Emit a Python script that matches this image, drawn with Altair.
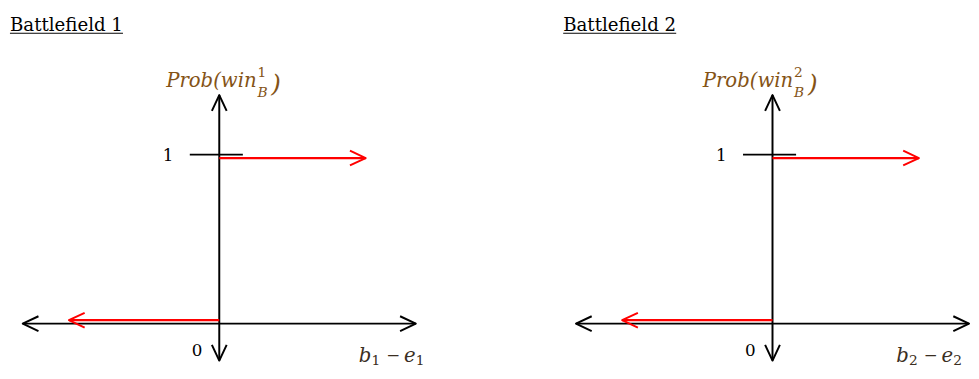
import altair as alt
import pandas as pd

# ---- data ----
panel_titles = ["Battlefield 1", "Battlefield 2"]
panel_index = ["1", "2"]

axis_x_ends = [-1.0, 1.0]          # horizontal axis (b - e), arrow at both ends
axis_y_ends = [-0.22, 1.36]        # vertical axis (probability), arrow at both ends
tick_one_x = [-0.15, 0.12]         # short tick at Prob = 1
tick_labels = ["0", "1"]
tick_values = [0, 1]

step_low_x = [-0.765, 0.0]         # Prob = 0 for b - e < 0
step_low_y = 0
step_high_x = [0.0, 0.745]         # Prob = 1 for b - e > 0
step_high_y = 1

# ---- styles / layout ----
WIDTHS = [415, 417]
H = 363
SPACING = 139
X_LEFT = -1.075
PX_PER_X = 200.0
Y_DOMAIN = [-(H - 318) / 171.0, 318 / 171.0]
ARROW = "M-1,-0.47L0,0L-1,0.47"
SERIF = "DejaVu Serif"
YLAB_SHIFT = [0, -17]
XLAB_SHIFT = [0, -16]

ys = alt.Scale(domain=Y_DOMAIN, nice=False, zero=False)


def txt(s, x, y, size, color="black", style="normal", align="left",
        baseline="alphabetic", font=SERIF):
    return alt.Chart(pd.DataFrame({"t": [s]})).mark_text(
        font=font, fontSize=size, fontStyle=style, color=color,
        align=align, baseline=baseline,
    ).encode(x=alt.value(x), y=alt.value(y), text="t:N")


def panel(k):
    W = WIDTHS[k]
    xs = alt.Scale(domain=[X_LEFT, X_LEFT + W / PX_PER_X], nice=False, zero=False)
    title = panel_titles[k]
    idx = panel_index[k]
    layers = []

    # axes
    hx = pd.DataFrame({"x": [axis_x_ends[0]], "x2": [axis_x_ends[1]], "y": [0]})
    layers.append(alt.Chart(hx).mark_rule(color="black", strokeWidth=2).encode(
        x=alt.X("x:Q", scale=xs, axis=None), x2="x2:Q",
        y=alt.Y("y:Q", scale=ys, axis=None)))
    vy = pd.DataFrame({"x": [0], "y": [axis_y_ends[0]], "y2": [axis_y_ends[1]]})
    layers.append(alt.Chart(vy).mark_rule(color="black", strokeWidth=2).encode(
        x=alt.X("x:Q", scale=xs, axis=None),
        y=alt.Y("y:Q", scale=ys, axis=None), y2="y2:Q"))
    tk = pd.DataFrame({"x": [tick_one_x[0]], "x2": [tick_one_x[1]], "y": [1]})
    layers.append(alt.Chart(tk).mark_rule(color="black", strokeWidth=2, yOffset=-1).encode(
        x=alt.X("x:Q", scale=xs, axis=None), x2="x2:Q",
        y=alt.Y("y:Q", scale=ys, axis=None)))
    heads = pd.DataFrame({
        "x": [axis_x_ends[1], axis_x_ends[0], 0, 0],
        "y": [0, 0, axis_y_ends[1], axis_y_ends[0]],
        "a": [0, 180, 270, 90],
    })
    layers.append(alt.Chart(heads).mark_point(
        shape=ARROW, filled=False, size=1024, strokeWidth=2, color="black",
        opacity=1, strokeJoin="round").encode(
        x=alt.X("x:Q", scale=xs, axis=None),
        y=alt.Y("y:Q", scale=ys, axis=None),
        angle=alt.Angle("a:Q", scale=None)))

    # step function (red)
    hi = pd.DataFrame({"x": [step_high_x[0]], "x2": [step_high_x[1]], "y": [step_high_y]})
    layers.append(alt.Chart(hi).mark_rule(color="#ff0000", strokeWidth=2.2, yOffset=2.5).encode(
        x=alt.X("x:Q", scale=xs, axis=None), x2="x2:Q",
        y=alt.Y("y:Q", scale=ys, axis=None)))
    lo = pd.DataFrame({"x": [step_low_x[0]], "x2": [step_low_x[1]], "y": [step_low_y]})
    layers.append(alt.Chart(lo).mark_rule(color="#ff0000", strokeWidth=2.2, yOffset=-3.5).encode(
        x=alt.X("x:Q", scale=xs, axis=None), x2="x2:Q",
        y=alt.Y("y:Q", scale=ys, axis=None)))
    rh = pd.DataFrame({"x": [step_high_x[1], step_low_x[0]],
                       "y": [step_high_y, step_low_y],
                       "a": [0, 180]})
    layers.append(alt.Chart(rh.iloc[[0]]).mark_point(
        shape=ARROW, filled=False, size=1024, strokeWidth=2, color="#ff0000",
        opacity=1, strokeJoin="round", yOffset=2.5).encode(
        x=alt.X("x:Q", scale=xs, axis=None),
        y=alt.Y("y:Q", scale=ys, axis=None),
        angle=alt.Angle("a:Q", scale=None)))
    layers.append(alt.Chart(rh.iloc[[1]]).mark_point(
        shape=ARROW, filled=False, size=1024, strokeWidth=2, color="#ff0000",
        opacity=1, strokeJoin="round", yOffset=-3.5).encode(
        x=alt.X("x:Q", scale=xs, axis=None),
        y=alt.Y("y:Q", scale=ys, axis=None),
        angle=alt.Angle("a:Q", scale=None)))

    # tick labels
    one = pd.DataFrame({"t": [tick_labels[1]], "y": [tick_values[1]]})
    layers.append(alt.Chart(one).mark_text(
        font=SERIF, fontSize=17, color="black", align="center",
        baseline="middle", dy=1).encode(
        x=alt.value(163), y=alt.Y("y:Q", scale=ys, axis=None), text="t:N"))
    zero = pd.DataFrame({"t": [tick_labels[0]], "y": [tick_values[0]]})
    layers.append(alt.Chart(zero).mark_text(
        font=SERIF, fontSize=17, color="black", align="center",
        baseline="middle", dy=28).encode(
        x=alt.value(192.5), y=alt.Y("y:Q", scale=ys, axis=None), text="t:N"))

    # panel title with underline
    layers.append(txt(title, 2, 20, 18.5))
    layers.append(alt.Chart(pd.DataFrame({"a": [0]})).mark_rule(
        color="black", strokeWidth=1).encode(
        x=alt.value(2), x2=alt.value(117), y=alt.value(22.5)))

    # y label: Prob(win_B^k)
    yc = "#845316"
    sx = 253 + YLAB_SHIFT[k]
    layers.append(txt("Prob(win", sx, 77, 20, yc, "italic", "right"))
    layers.append(txt(idx, sx + 1, 67, 14, yc, "normal"))
    layers.append(txt("B", sx + 1, 87, 14, yc, "italic"))
    layers.append(txt(")", sx + 15, 82, 25, yc, "italic"))

    # x label: b_k - e_k
    xc = "#3a2e22"
    bx = 357 + XLAB_SHIFT[k]
    layers.append(txt("b", bx, 357, 20, xc, "italic"))
    layers.append(txt(idx, bx + 13, 363, 14, xc, baseline="bottom"))
    layers.append(txt("\u2212", bx + 35, 351, 17, xc, "normal", "center", "middle"))
    layers.append(txt("e", bx + 46, 357, 20, xc, "italic"))
    layers.append(txt(idx, bx + 58, 363, 14, xc, baseline="bottom"))

    return alt.layer(*layers).properties(width=W, height=H)


chart = alt.hconcat(panel(0), panel(1), spacing=SPACING).properties(
    padding=0
).configure_view(stroke=None)

chart.save("out.html", embed_options={"renderer": "svg", "actions": False})
